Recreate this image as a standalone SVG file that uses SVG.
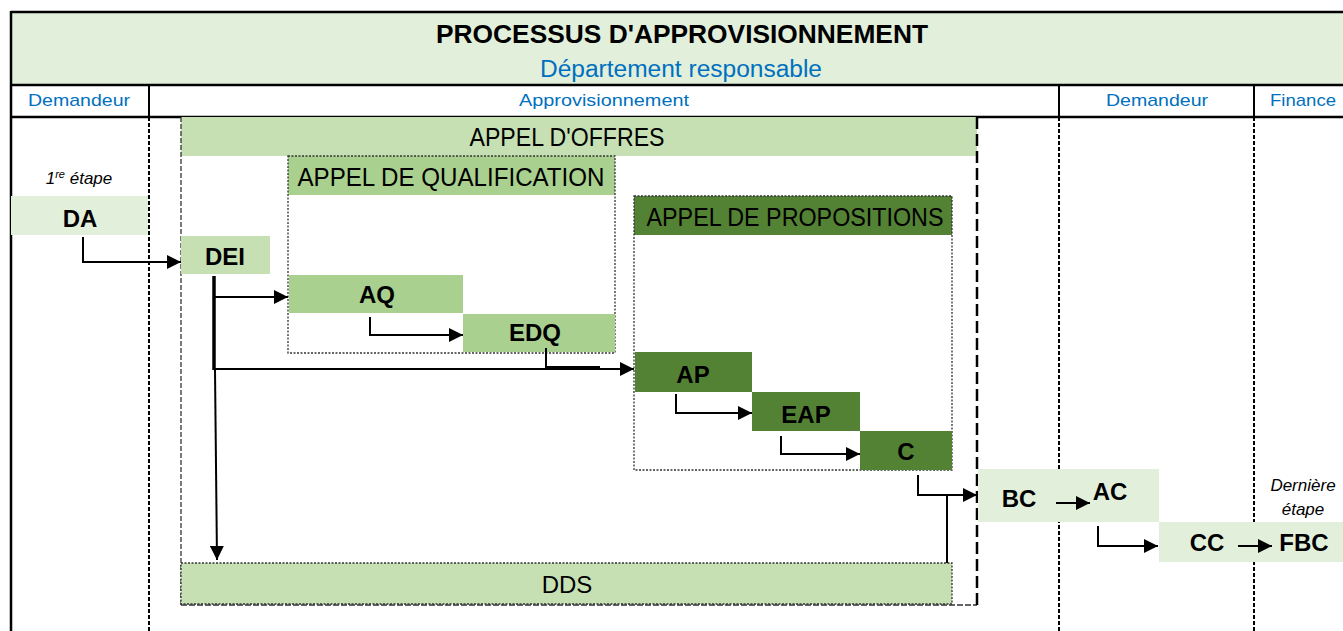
<svg xmlns="http://www.w3.org/2000/svg" width="1343" height="631" viewBox="0 0 1343 631">
<defs>
<style>
.t{font-family:"Liberation Sans",Arial,sans-serif;text-anchor:middle}
.b{font-weight:bold;font-size:24px;fill:#000}
.h{font-size:25px;fill:#000}
.lane{font-size:17px;fill:#0070C0}
.it{font-style:italic;font-size:17px;fill:#000}
.c{fill:none;stroke:#000;stroke-width:2}
.dv{stroke:#000;stroke-width:2;stroke-dasharray:4 2;fill:none}
.dot{stroke:#333;stroke-width:1.3;stroke-dasharray:2 1.5;fill:none}
</style>
<marker id="ah" viewBox="0 0 10 10" refX="10" refY="5" markerWidth="14" markerHeight="14" markerUnits="userSpaceOnUse" orient="auto">
<path d="M0,0 L10,5 L0,10 z" fill="#000"/>
</marker>
</defs>
<rect width="1343" height="631" fill="#fff"/>
<g id="header">
<rect x="11" y="12" width="1340" height="73" fill="#E2EFDA"/>
<line x1="11" y1="12" x2="1343" y2="12" stroke="#000" stroke-width="2.5"/>
<line x1="11" y1="85" x2="1343" y2="85" stroke="#000" stroke-width="2.5"/>
<line x1="11" y1="117" x2="1343" y2="117" stroke="#000" stroke-width="2.5"/>
<line x1="11" y1="11" x2="11" y2="631" stroke="#000" stroke-width="2.5"/>
<line x1="149" y1="85" x2="149" y2="117" stroke="#000" stroke-width="2"/>
<line x1="1059" y1="85" x2="1059" y2="117" stroke="#000" stroke-width="2"/>
<line x1="1254" y1="85" x2="1254" y2="117" stroke="#000" stroke-width="2"/>
<text class="t" x="682" y="43" font-weight="bold" font-size="26" textLength="492" lengthAdjust="spacingAndGlyphs">PROCESSUS D'APPROVISIONNEMENT</text>
<text class="t" x="681" y="77" font-size="23" fill="#0070C0" textLength="282" lengthAdjust="spacingAndGlyphs">Département responsable</text>
<text class="t lane" x="79" y="106" textLength="102" lengthAdjust="spacingAndGlyphs">Demandeur</text>
<text class="t lane" x="604" y="106" textLength="170" lengthAdjust="spacingAndGlyphs">Approvisionnement</text>
<text class="t lane" x="1157" y="106" textLength="102" lengthAdjust="spacingAndGlyphs">Demandeur</text>
<text class="t lane" x="1303" y="106" textLength="66" lengthAdjust="spacingAndGlyphs">Finance</text>
</g>
<g id="lanes">
<line class="dv" x1="149" y1="117" x2="149" y2="631"/>
<line class="dv" x1="1059" y1="117" x2="1059" y2="631"/>
<line class="dv" x1="1254" y1="117" x2="1254" y2="631"/>
</g>
<g id="appel-offres">
<rect x="181" y="117" width="796" height="39" fill="#C6E0B4"/>
<line x1="181" y1="117" x2="181" y2="605" stroke="#333" stroke-width="1.3" stroke-dasharray="5 2"/>
<line x1="181" y1="605" x2="977" y2="605" stroke="#333" stroke-width="1.5" stroke-dasharray="6 2"/>
<line x1="977" y1="117" x2="977" y2="606" stroke="#000" stroke-width="2.5" stroke-dasharray="12 5"/>
<text class="t h" x="567" y="146" textLength="195" lengthAdjust="spacingAndGlyphs">APPEL D'OFFRES</text>
</g>
<g id="appel-qualification">
<rect x="288" y="156" width="327" height="39" fill="#A9D08E"/>
<rect class="dot" x="288" y="156" width="327" height="197"/>
<text class="t h" x="451" y="186" textLength="307" lengthAdjust="spacingAndGlyphs">APPEL DE QUALIFICATION</text>
</g>
<g id="appel-propositions">
<rect x="634" y="196" width="318" height="39" fill="#548235"/>
<rect class="dot" x="634" y="196" width="318" height="274"/>
<text class="t h" x="795" y="226" textLength="297" lengthAdjust="spacingAndGlyphs">APPEL DE PROPOSITIONS</text>
</g>
<g id="DA">
<text class="t it" x="79" y="184">1<tspan font-size="11" dy="-6">re</tspan><tspan dy="6"> étape</tspan></text>
<rect x="11" y="196" width="137" height="39" fill="#E2EFDA"/>
<text class="t b" x="80" y="227">DA</text>
</g>
<g id="DEI">
<rect x="181" y="236" width="89" height="38" fill="#C6E0B4"/>
<text class="t b" x="225" y="265">DEI</text>
</g>
<g id="AQ">
<rect x="289" y="275" width="174" height="38" fill="#A9D08E"/>
<text class="t b" x="377" y="303">AQ</text>
</g>
<g id="EDQ">
<rect x="463" y="314" width="152" height="38" fill="#A9D08E"/>
<text class="t b" x="535" y="341">EDQ</text>
</g>
<g id="AP">
<rect x="635" y="352" width="117" height="40" fill="#548235"/>
<text class="t b" x="693" y="383">AP</text>
</g>
<g id="EAP">
<rect x="752" y="392" width="108" height="39" fill="#548235"/>
<text class="t b" x="806" y="423">EAP</text>
</g>
<g id="C">
<rect x="860" y="431" width="92" height="39" fill="#548235"/>
<text class="t b" x="906" y="460">C</text>
</g>
<g id="DDS">
<rect x="181" y="563" width="771" height="41" fill="#C6E0B4"/>
<rect class="dot" x="181" y="563" width="771" height="41"/>
<text class="t" x="567" y="593" font-size="24">DDS</text>
</g>
<g id="BC-AC">
<rect x="978" y="469" width="181" height="53" fill="#E2EFDA"/>
<text class="t b" x="1019" y="507">BC</text>
<text class="t b" x="1110" y="500">AC</text>
</g>
<g id="CC-FBC">
<rect x="1159" y="522" width="184" height="40" fill="#E2EFDA"/>
<text class="t b" x="1207" y="551">CC</text>
<text class="t b" x="1304" y="551">FBC</text>
<text class="t it" x="1303" y="491">Dernière</text>
<text class="t it" x="1303" y="515">étape</text>
</g>
<g id="connectors">
<path class="c" d="M83,237 V262 H181" marker-end="url(#ah)"/>
<line x1="214" y1="276" x2="214" y2="370" stroke="#000" stroke-width="3.5"/>
<path class="c" d="M214,297 H288" marker-end="url(#ah)"/>
<path class="c" d="M214,369 H634" marker-end="url(#ah)"/>
<path class="c" d="M215,370 L217,560" marker-end="url(#ah)"/>
<path class="c" d="M546,348 V367 H600"/>
<path class="c" d="M370,317 V335 H463" marker-end="url(#ah)"/>
<path class="c" d="M676,394 V413 H752" marker-end="url(#ah)"/>
<path class="c" d="M781,436 V454 H860" marker-end="url(#ah)"/>
<path class="c" d="M918,475 V495 H977" marker-end="url(#ah)"/>
<line class="c" x1="947" y1="495" x2="947" y2="563"/>
<path class="c" d="M1056,503 H1090" marker-end="url(#ah)"/>
<path class="c" d="M1098,526 V546 H1158" marker-end="url(#ah)"/>
<path class="c" d="M1238,546 H1272" marker-end="url(#ah)"/>
</g>
</svg>
